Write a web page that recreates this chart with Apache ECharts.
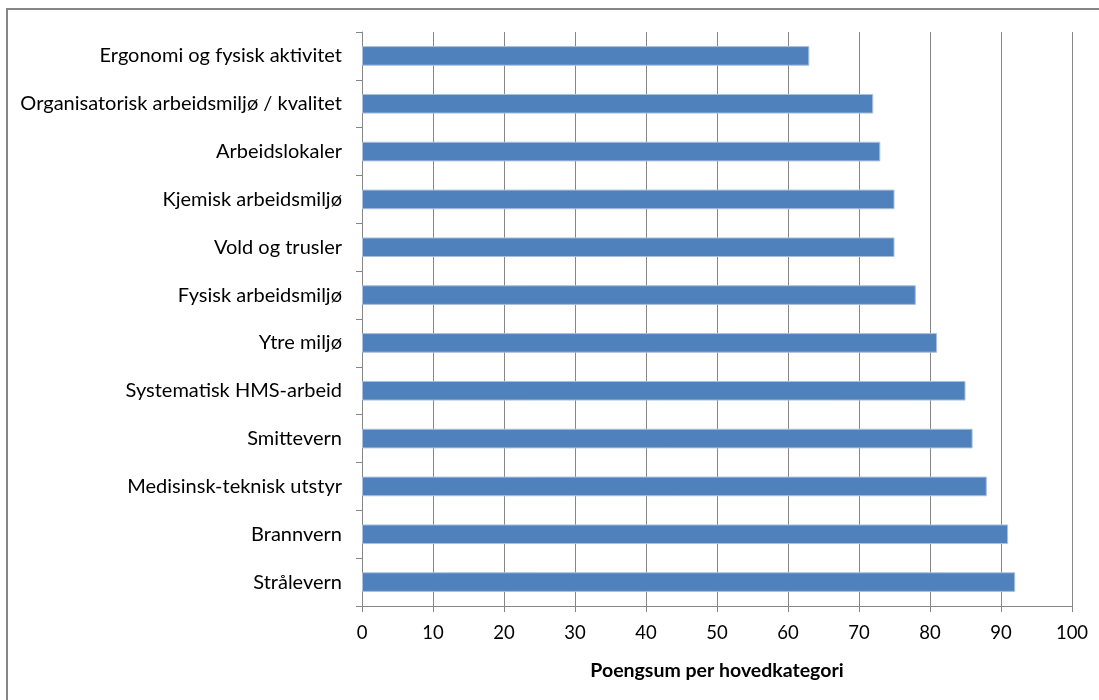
<!DOCTYPE html>
<html>
<head>
<meta charset="utf-8">
<script src="https://cdn.jsdelivr.net/npm/echarts@6/dist/echarts.min.js"></script>
<style>
  html, body { margin: 0; padding: 0; background: #fff; }
  #chart { width: 1099px; height: 700px; }
</style>
</head>
<body>
<div id="chart"></div>
<script>
// Main categories, listed top to bottom
const categories = [
  'Ergonomi og fysisk aktivitet',
  'Organisatorisk arbeidsmiljø / kvalitet',
  'Arbeidslokaler',
  'Kjemisk arbeidsmiljø',
  'Vold og trusler',
  'Fysisk arbeidsmiljø',
  'Ytre miljø',
  'Systematisk HMS-arbeid',
  'Smittevern',
  'Medisinsk-teknisk utstyr',
  'Brannvern',
  'Strålevern'
];
// Score per category
const scores = [63, 72, 73, 75, 75, 78, 81, 85, 86, 88, 91, 92];
const axisTitle = 'Poengsum per hovedkategori';

const font = 'Lato, "Open Sans", sans-serif';
const chart = echarts.init(document.getElementById('chart'));
chart.setOption({
  animation: false,
  backgroundColor: '#fff',
  graphic: [{
    type: 'rect',
    shape: { x: 7, y: 9, width: 1200, height: 800 },
    style: { fill: 'none', stroke: '#868686', lineWidth: 2 }
  }],
  grid: { left: 362, right: 27, top: 32, bottom: 94, containLabel: false },
  xAxis: {
    type: 'value',
    min: 0, max: 100, interval: 10,
    name: axisTitle,
    nameLocation: 'middle',
    nameGap: 55,
    nameTextStyle: { fontFamily: font, fontSize: 19.5, fontWeight: 'bold', color: '#000' },
    axisLine: { show: true, lineStyle: { color: '#868686', width: 1 } },
    axisTick: { show: true, length: 6, lineStyle: { color: '#868686' } },
    axisLabel: { fontFamily: font, fontSize: 18.5, color: '#000', margin: 18 },
    splitLine: { show: true, lineStyle: { color: '#868686', width: 1 } }
  },
  yAxis: {
    type: 'category',
    data: categories,
    inverse: true,
    axisLine: { show: true, lineStyle: { color: '#868686', width: 1 } },
    axisTick: { show: true, length: 6, lineStyle: { color: '#868686' } },
    axisLabel: { fontFamily: font, fontSize: 20, color: '#000', margin: 20 }
  },
  series: [{
    type: 'bar',
    data: scores,
    barWidth: '41%',
    itemStyle: { color: '#4F81BD', borderColor: '#a9c0de', borderWidth: 1 }
  }]
});
</script>
</body>
</html>
